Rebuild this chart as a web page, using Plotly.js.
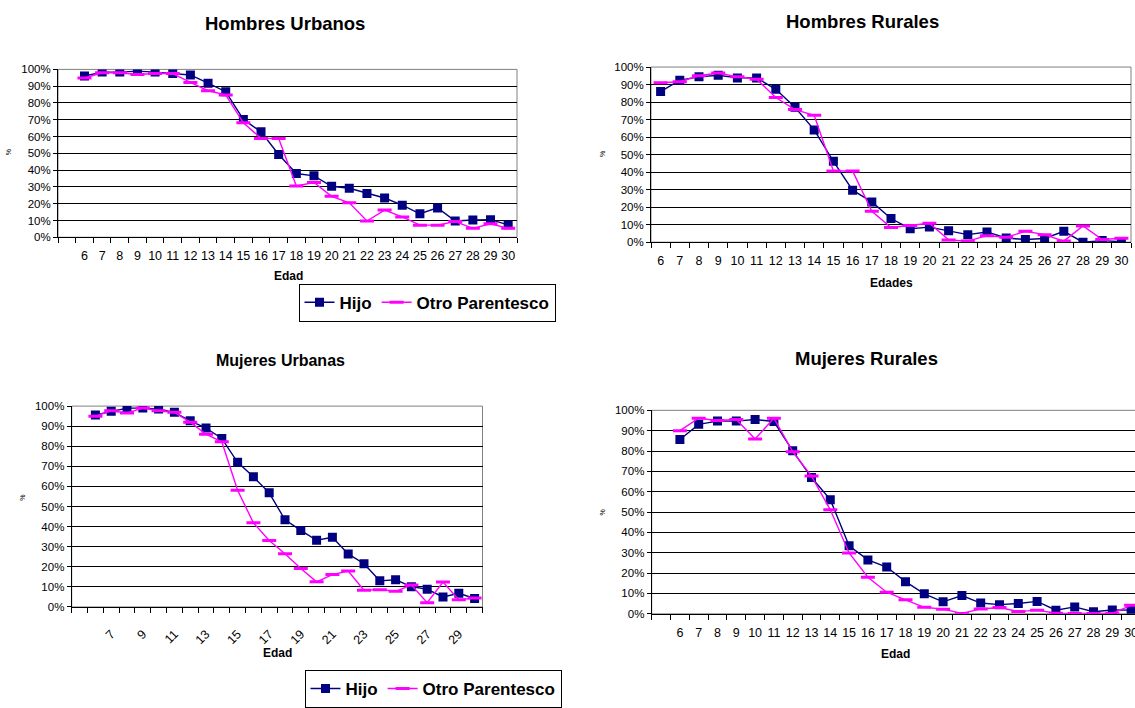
<!DOCTYPE html>
<html><head><meta charset="utf-8">
<script src="https://cdn.plot.ly/plotly-3.0.1.min.js"></script>
<style>html,body{margin:0;padding:0;overflow:hidden;background:#fff}#chart{width:1142px;height:708px}</style>
</head><body><div id="chart"></div>
<script>
const edades = [6,7,8,9,10,11,12,13,14,15,16,17,18,19,20,21,22,23,24,25,26,27,28,29,30];
const etiquetasImpares = [7,9,11,13,15,17,19,21,23,25,27,29];
const series = ["Hijo", "Otro Parentesco"];
const titulos = ["Hombres Urbanos", "Hombres Rurales", "Mujeres Urbanas", "Mujeres Rurales"];
const titulosX = ["Edad", "Edades", "Edad", "Edad"];

const hijoHombresUrbanos = [96.1,98.4,98.4,99.0,98.4,97.5,96.7,91.8,86.7,70.2,62.8,49.3,38.0,36.6,30.4,29.2,26.1,23.4,19.1,14.0,17.5,9.7,10.3,10.5,7.4];
const otroHombresUrbanos = [94.9,98.0,98.0,97.0,97.6,97.5,92.2,87.3,84.8,68.2,58.9,58.9,30.6,32.6,24.4,20.5,9.7,16.2,12.1,7.2,7.2,9.4,5.3,8.0,5.3];
const hijoHombresRurales = [86.0,92.5,94.4,95.3,93.8,93.8,87.3,77.0,64.1,46.2,29.7,23.0,13.5,7.7,8.6,6.5,4.3,5.8,2.4,1.5,2.1,6.2,0.0,0.9,0.2];
const otroHombresRurales = [91.0,91.6,95.0,96.6,94.4,93.1,82.6,75.7,72.5,40.6,40.6,17.6,8.4,9.5,10.8,1.3,0.6,3.7,2.8,6.2,4.3,0.6,9.3,1.5,2.2];
const hijoMujeresUrbanas = [95.6,97.4,99.0,99.0,98.5,96.9,92.7,89.1,83.9,72.0,64.8,56.8,43.4,38.1,33.2,34.7,26.4,21.5,13.0,13.5,10.1,8.8,5.0,6.8,4.2];
const otroMujeresUrbanas = [95.0,97.7,96.6,99.0,97.7,96.9,92.0,86.0,82.2,58.1,41.9,33.1,26.5,19.1,12.5,16.1,17.9,8.3,8.6,7.8,10.9,2.1,12.4,3.6,4.4];
const hijoMujeresRurales = [85.7,93.1,94.7,94.7,95.5,94.5,80.1,67.0,56.1,33.4,26.5,23.0,15.8,9.8,5.9,9.0,5.3,4.5,5.1,6.1,1.8,3.4,1.0,1.9,1.8];
const otroMujeresRurales = [90.0,96.1,95.0,95.5,85.9,96.1,79.7,67.7,51.1,29.9,18.0,10.6,6.9,3.2,2.3,0.2,2.4,3.1,1.1,1.8,0.3,0.2,0.2,0.2,4.2];

const W = 1142, H = 708;
const FONT = "Liberation Sans, Arial, sans-serif";
function dx(a, b) { return [a / W, b / W]; }
function dy(top, bottom) { return [1 - bottom / H, 1 - top / H]; }

const panels = [
  {ax: "", L: 58, R: 517, T: 70.7, B: 241.7, xr: [4.5, 30.5], hijo: hijoHombresUrbanos, otro: otroHombresUrbanos, legend: "legend", ticks: edades, angle: 0},
  {ax: "2", L: 651, R: 1131, T: 68.3, B: 246.7, xr: [5.5, 30.5], hijo: hijoHombresRurales, otro: otroHombresRurales, legend: null, ticks: edades, angle: 0},
  {ax: "3", L: 71.7, R: 482.5, T: 413.7, B: 618.3, xr: [4.5, 30.5], hijo: hijoMujeresUrbanas, otro: otroMujeresUrbanas, legend: "legend2", ticks: etiquetasImpares, angle: -45},
  {ax: "4", L: 651.7, R: 1140.5, T: 418, B: 625.3, xr: [4.5, 30.5], hijo: hijoMujeresRurales, otro: otroMujeresRurales, legend: null, ticks: edades, angle: 0}
];

const data = [];
const legendStyle = (cx, top) => ({orientation: "h", x: cx / W, xanchor: "center", y: 1 - top / H, yanchor: "top",
  bordercolor: "#000", borderwidth: 1, bgcolor: "#fff", font: {size: 17, family: FONT, weight: "bold", color: "#000"},
  itemwidth: 30, tracegroupgap: 0});
const layout = {
  width: W, height: H,
  margin: {l: 0, r: 0, t: 0, b: 0},
  paper_bgcolor: "#fff", plot_bgcolor: "#fff",
  font: {family: FONT, color: "#000"},
  annotations: [], shapes: [],
  legend: legendStyle(427, 289),
  legend2: legendStyle(433, 683)
};

panels.forEach((p, i) => {
  const xa = "x" + p.ax, ya = "y" + p.ax;
  data.push({
    x: edades, y: p.hijo, name: series[0], xaxis: xa, yaxis: ya, type: "scatter", mode: "lines+markers",
    line: {color: "#000080", width: 1.4},
    marker: {symbol: "square", size: 9, color: "#000080", line: {width: 0}},
    showlegend: !!p.legend, legend: p.legend || "legend", hoverinfo: "x+y"
  });
  data.push({
    x: edades, y: p.otro, name: series[1], xaxis: xa, yaxis: ya, type: "scatter", mode: "lines+markers",
    line: {color: "#FF00FF", width: 1.4},
    marker: {symbol: "line-ew", size: 10, color: "#FF00FF", line: {color: "#FF00FF", width: 3}},
    showlegend: !!p.legend, legend: p.legend || "legend", hoverinfo: "x+y"
  });
  layout["xaxis" + p.ax] = {
    domain: dx(p.L, p.R), anchor: ya, range: p.xr, fixedrange: true,
    tickmode: "array", tickvals: p.ticks, ticktext: p.ticks.map(String),
    ticks: "outside", ticklen: p.angle ? 14 : 7, tickcolor: "rgba(0,0,0,0)", tickangle: p.angle,
    minor: {ticks: "outside", ticklen: 5, tickcolor: "#000", tick0: 0.5, dtick: 1, showgrid: false},
    showline: true, linecolor: "#000", linewidth: 1, showgrid: false, zeroline: false,
    tickfont: {size: 12.5, family: FONT, color: "#000"}
  };
  layout["yaxis" + p.ax] = {
    domain: dy(p.T, p.B), anchor: xa, range: [0, 100], fixedrange: true,
    tickmode: "linear", tick0: 0, dtick: 10, ticksuffix: "%",
    ticks: "outside", ticklen: 4, tickcolor: "#000",
    showline: true, linecolor: "#000", linewidth: 1,
    showgrid: true, gridcolor: "#000", gridwidth: 1, zeroline: false,
    tickfont: {size: 11.5, family: FONT, color: "#000"}
  };
  layout.shapes.push({type: "rect", xref: xa + " domain", yref: ya + " domain", x0: 0, x1: 1, y0: 0, y1: 1,
    line: {color: "#808080", width: 1}, layer: "below"});
});

const titlePos = [[285, 24, 18.5], [862, 22, 18.5], [280, 367, 16], [866, 365, 18.5]];
const xTitlePos = [[288, 281], [891, 288], [277, 665], [895, 666]];
const pctPos = [[8, 155], [602, 157], [23, 507], [602, 522]];
titulos.forEach((t, i) => {
  layout.annotations.push({text: t, xref: "paper", yref: "paper", x: titlePos[i][0] / W, y: 1 - titlePos[i][1] / H,
    xanchor: "center", yanchor: "middle", showarrow: false, font: {size: titlePos[i][2], family: FONT, weight: "bold", color: "#000"}});
  layout.annotations.push({text: titulosX[i], xref: "paper", yref: "paper", x: xTitlePos[i][0] / W, y: 1 - xTitlePos[i][1] / H,
    xanchor: "center", yanchor: "middle", showarrow: false, font: {size: 12, family: FONT, weight: "bold", color: "#000"}});
  layout.annotations.push({text: "%", xref: "paper", yref: "paper", x: pctPos[i][0] / W, y: 1 - pctPos[i][1] / H,
    xanchor: "center", yanchor: "middle", showarrow: false, textangle: -90, font: {size: 7, family: FONT, color: "#000"}});
});

Plotly.newPlot("chart", data, layout, {displayModeBar: false, staticPlot: true});
</script>
</body></html>
